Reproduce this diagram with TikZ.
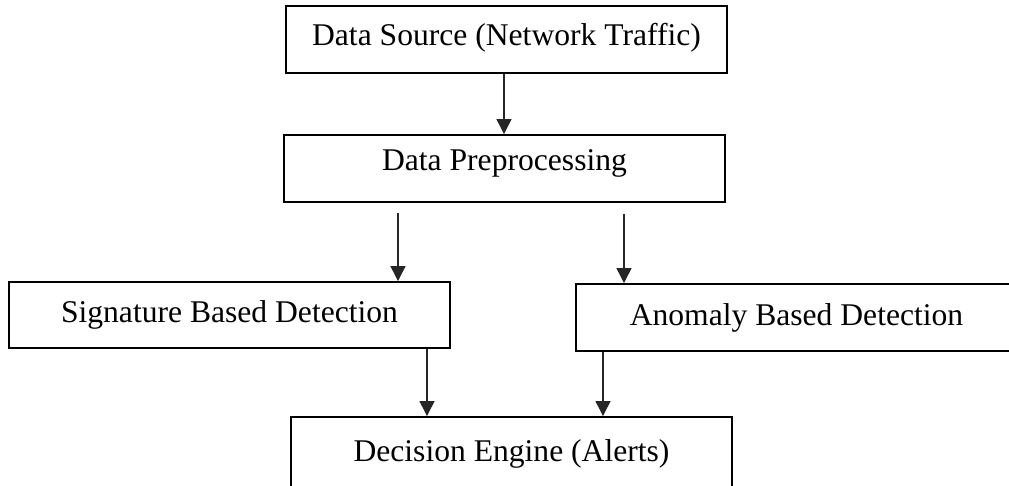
\documentclass[tikz,border=0pt]{standalone}
\usepackage{fontspec}
\setmainfont{Liberation Serif}
\usetikzlibrary{arrows.meta,calc}
\tikzset{
  box/.style={draw=black, line width=1.9pt, minimum width=441pt, inner sep=0pt, text height=22pt, font=\fontsize{31.6}{38}\selectfont},
  arr/.style={draw=black!85, line width=1.2pt, -{Triangle[width=15pt,length=15pt]}}
}
\begin{document}
\begin{tikzpicture}[x=1pt,y=-1pt]
\useasboundingbox (0,0) rectangle (1009,485);
\clip (0,0) rectangle (1009,485);
\fill[white] (0,0) rectangle (1009,485);
\node[box, minimum height=67pt, text depth=9.5pt] (b1) at (506.5,39.5) {Data Source (Network Traffic)};
\node[box, minimum height=67pt, text depth=17.5pt] (b2) at (504.5,168.5) {Data Preprocessing};
\node[box, minimum height=66pt, text depth=6.5pt] (b3) at (229.5,315) {Signature Based Detection};
\node[box, minimum height=67pt, text depth=6.5pt] (b4) at (796.5,317.5) {Anomaly Based Detection};
\node[box, minimum height=76pt, text depth=9.5pt] (b5) at (511.5,455) {Decision Engine (Alerts)};
\draw[arr] ([xshift=-2.5pt]b1.south) -- ([xshift=-2.5pt]b1.south |- b2.north);
\draw[arr] ([xshift=-106.5pt,yshift=-10pt]b2.south) -- ([xshift=-106.5pt]b2.south |- b3.north);
\draw[arr] ([xshift=119.5pt,yshift=-11pt]b2.south) -- ([xshift=119.5pt]b2.south |- b4.north);
\draw[arr] ([xshift=197.5pt]b3.south) -- ([xshift=197.5pt]b3.south |- b5.north);
\draw[arr] ([xshift=-193.5pt]b4.south) -- ([xshift=-193.5pt]b4.south |- b5.north);
\end{tikzpicture}
\end{document}
